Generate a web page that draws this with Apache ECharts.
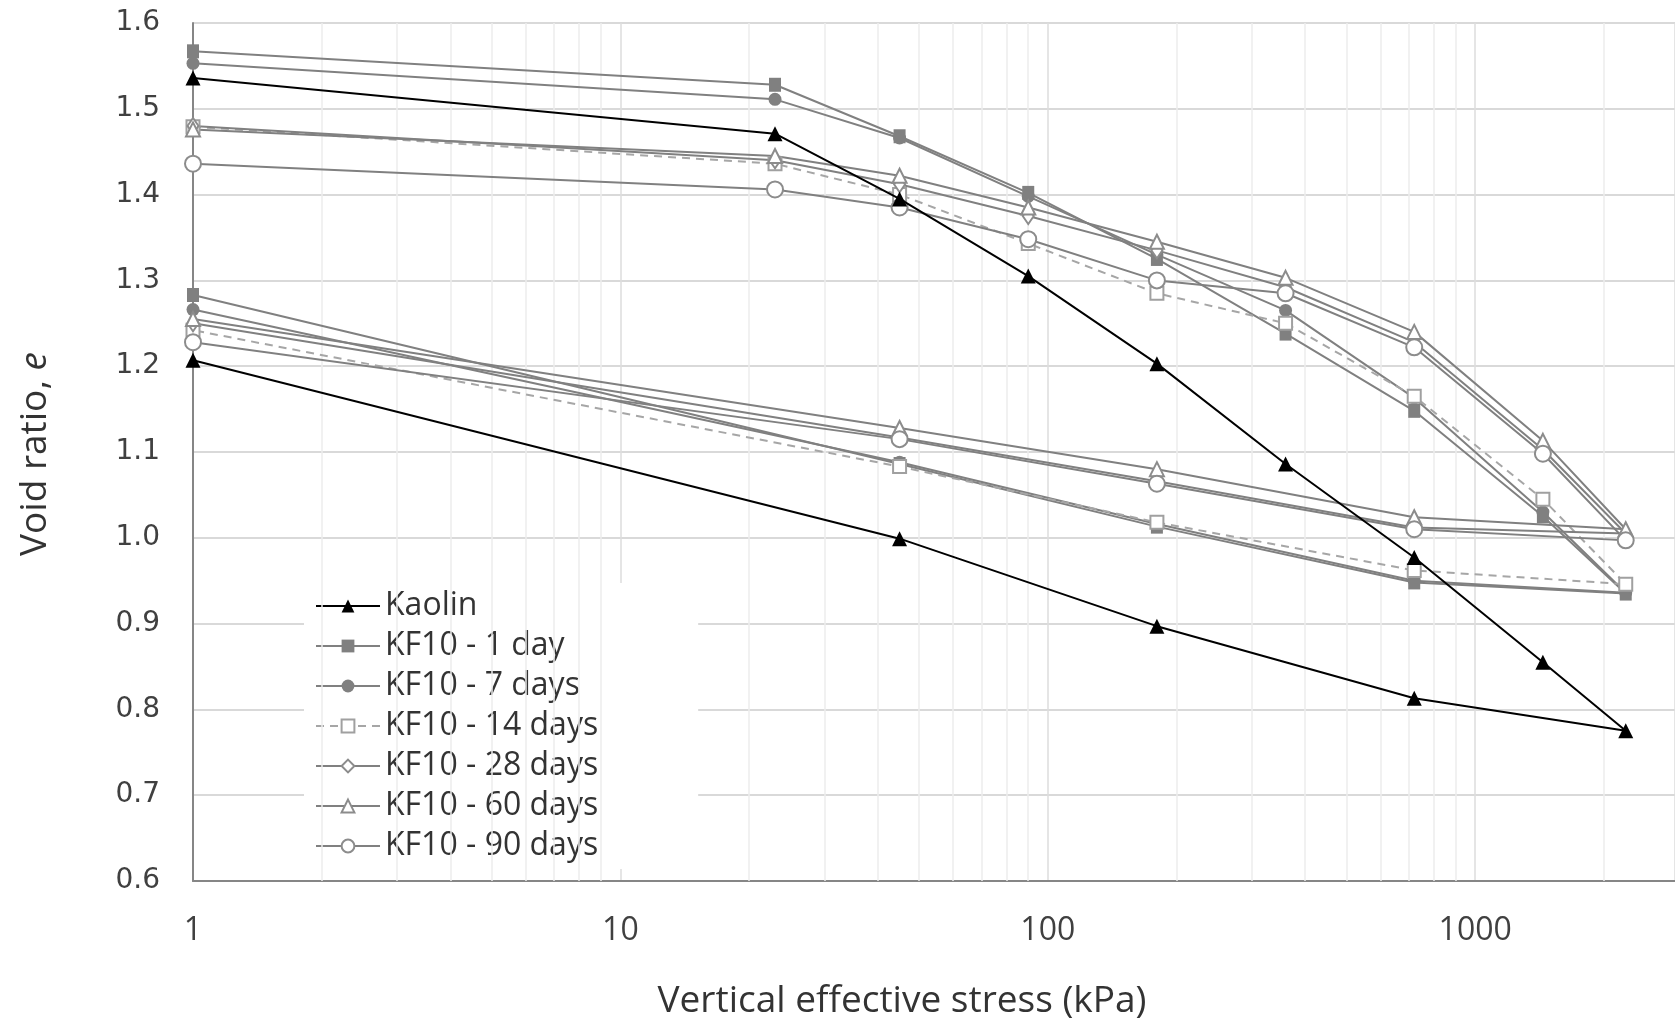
<!DOCTYPE html>
<html>
<head>
<meta charset="utf-8">
<script src="https://cdn.jsdelivr.net/npm/echarts@6/dist/echarts.min.js"></script>
<style>
  html, body { margin: 0; padding: 0; background: #ffffff; overflow: hidden; }
  #chart { width: 1675px; height: 1024px; }
</style>
</head>
<body>
<div id="chart"></div>
<script>
// ---- Data ----
const stressSteps = [1, 23, 45, 90, 180, 360, 720, 1440, 2250, 720, 180, 45, 1]; // kPa, loading then unloading

const kaolin     = [1.536, 1.471, 1.395, 1.305, 1.203, 1.086, 0.977, 0.855, 0.775, 0.813, 0.897, 0.999, 1.207];
const kf10_1day  = [1.567, 1.528, 1.468, 1.402, 1.325, 1.238, 1.148, 1.025, 0.935, 0.948, 1.013, 1.086, 1.283];
const kf10_7day  = [1.553, 1.511, 1.466, 1.398, 1.330, 1.265, 1.163, 1.030, 0.936, 0.950, 1.016, 1.088, 1.266];
const kf10_14day = [1.479, 1.436, 1.400, 1.343, 1.285, 1.250, 1.165, 1.045, 0.946, 0.962, 1.018, 1.083, 1.242];
const kf10_28day = [1.480, 1.440, 1.412, 1.375, 1.335, 1.292, 1.228, 1.103, 1.005, 1.012, 1.066, 1.117, 1.250];
const kf10_60day = [1.476, 1.445, 1.422, 1.385, 1.345, 1.303, 1.240, 1.113, 1.010, 1.024, 1.080, 1.128, 1.255];
const kf10_90day = [1.436, 1.406, 1.385, 1.348, 1.300, 1.285, 1.222, 1.098, 0.997, 1.010, 1.063, 1.115, 1.228];

const seriesNames = ['Kaolin', 'KF10 - 1 day', 'KF10 - 7 days', 'KF10 - 14 days', 'KF10 - 28 days', 'KF10 - 60 days', 'KF10 - 90 days'];
const xTickLabels = ['1', '10', '100', '1000'];
const yTickLabels = ['0.6', '0.7', '0.8', '0.9', '1.0', '1.1', '1.2', '1.3', '1.4', '1.5', '1.6'];
const minorGridStress = [2,3,4,5,6,7,8,9,20,30,40,50,60,70,80,90,200,300,400,500,600,700,800,900,2000];
const xAxisMin = 1;
const xAxisMax = 2934; // visible right edge of the (cropped) log axis

// ---- Build ----
function pairs(vals) { return stressSteps.map((s, i) => [s, vals[i]]); }

const gray = '#808080';
const styles = [
  { vals: kaolin,     color: '#000000', line: '#000000', symbol: 'triangle',      size: 15, dashed: false },
  { vals: kf10_1day,  color: gray,      line: gray,      symbol: 'rect',          size: [12, 14], dashed: false },
  { vals: kf10_7day,  color: gray,      line: gray,      symbol: 'circle',        size: 13, dashed: false },
  { vals: kf10_14day, color: '#a0a0a0', line: '#a6a6a6', symbol: 'emptyRect',     size: 13, dashed: true },
  { vals: kf10_28day, color: '#8c8c8c', line: gray,      symbol: 'emptyDiamond',  size: [11, 16], dashed: false },
  { vals: kf10_60day, color: '#8c8c8c', line: gray,      symbol: 'emptyTriangle', size: 14, dashed: false },
  { vals: kf10_90day, color: '#8c8c8c', line: gray,      symbol: 'emptyCircle',   size: 16, dashed: false }
];

const series = styles.map((st, i) => ({
  name: seriesNames[i],
  type: 'line',
  data: pairs(st.vals),
  symbol: st.symbol,
  symbolSize: st.size,
  showAllSymbol: true,
  z: i === 0 ? 10 : 5,
  itemStyle: { color: st.color, borderWidth: 1.5 },
  lineStyle: { color: st.line, width: 2, type: st.dashed ? [8, 6] : 'solid' },
  emphasis: { disabled: true }
}));

// minor vertical gridlines for the log axis
series.push({
  type: 'line',
  data: [],
  silent: true,
  z: 0,
  markLine: {
    silent: true,
    symbol: ['none', 'none'],
    label: { show: false },
    lineStyle: { color: '#ececec', width: 1.5, type: 'solid' },
    data: minorGridStress.map(v => ({ xAxis: v }))
  }
});

function isPow10(v) { const l = Math.log10(v); return Math.abs(l - Math.round(l)) < 1e-6; }

const chart = echarts.init(document.getElementById('chart'), null, { renderer: 'canvas' });
chart.setOption({
  backgroundColor: '#ffffff',
  animation: false,
  grid: { left: 193, top: 23, bottom: 143, right: 0, show: false },
  xAxis: {
    type: 'log', logBase: 10, min: xAxisMin, max: xAxisMax,
    axisLine: { show: true, lineStyle: { color: '#868686', width: 2 } },
    axisTick: { show: false },
    splitLine: {
      show: true,
      lineStyle: { color: '#dcdcdc', width: 1.5 }
    },
    axisLabel: {
      margin: 34, color: '#404040', fontFamily: 'Open Sans', fontSize: 32,
      showMaxLabel: false,
      formatter: function (v) { if (!isPow10(v)) return ''; const k = Math.round(Math.log10(v)); return xTickLabels[k] !== undefined ? xTickLabels[k] : ''; }
    }
  },
  yAxis: {
    type: 'value', min: 0.6, max: 1.6, interval: 0.1,
    axisLine: { show: true, lineStyle: { color: '#868686', width: 2 } },
    axisTick: { show: false },
    splitLine: { show: true, lineStyle: { color: '#d9d9d9', width: 2 } },
    axisLabel: {
      margin: 33, color: '#404040', fontFamily: 'DejaVu Sans', fontSize: 28,
      formatter: function (v) { const k = Math.round((v - 0.6) * 10); return yTickLabels[k] !== undefined ? yTickLabels[k] : ''; }
    }
  },
  legend: {
    data: seriesNames,
    orient: 'vertical',
    left: 304, top: 583,
    padding: [7, 100, 7, 11],
    backgroundColor: '#ffffff',
    itemWidth: 64, itemHeight: 16, itemGap: 8,
    selectedMode: false,
    textStyle: { color: '#333333', fontFamily: 'Open Sans', fontSize: 32, padding: [0, 0, 0, 0] }
  },
  graphic: [
    {
      type: 'text', x: 902, y: 1001,
      style: { text: 'Vertical effective stress (kPa)', fill: '#333333', font: '37px "Open Sans"', align: 'center', verticalAlign: 'middle' }
    },
    {
      type: 'text', x: 35, y: 454, rotation: Math.PI / 2,
      style: {
        text: 'Void ratio, {i|e}', fill: '#333333', font: '37px "Open Sans"', align: 'center', verticalAlign: 'middle',
        rich: { i: { fontStyle: 'italic', fontSize: 37, fontFamily: 'Open Sans', fill: '#333333' } }
      }
    }
  ],
  series: series
});
</script>
</body>
</html>
